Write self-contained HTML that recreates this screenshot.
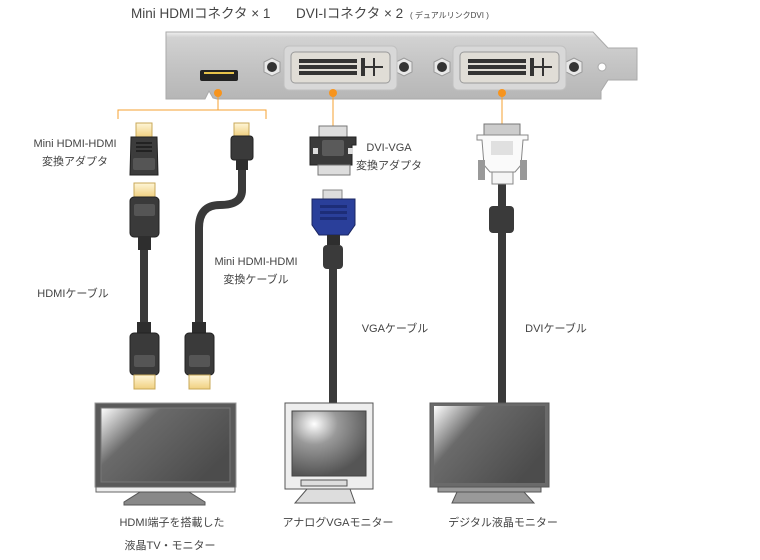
<!DOCTYPE html>
<html><head><meta charset="utf-8"><style>
html,body{margin:0;padding:0;background:#fff;width:760px;height:560px;overflow:hidden}
svg text{font-family:"Liberation Sans","Noto Sans CJK JP",sans-serif;fill:#444}
</style></head><body>
<svg width="760" height="560" viewBox="0 0 760 560" xmlns="http://www.w3.org/2000/svg">
<defs>
<linearGradient id="plate" x1="0" y1="0" x2="0" y2="1"><stop offset="0" stop-color="#f0f0f0"/><stop offset="0.08" stop-color="#d2d2d2"/><stop offset="0.5" stop-color="#c4c4c4"/><stop offset="1" stop-color="#b6b6b6"/></linearGradient>
<linearGradient id="scr" x1="0" y1="0" x2="1" y2="0.6"><stop offset="0" stop-color="#fff"/><stop offset="0.35" stop-color="#6a6a6a"/><stop offset="1" stop-color="#4c4c4c"/></linearGradient>
<radialGradient id="scr2" cx="0.3" cy="0.2" r="0.8"><stop offset="0" stop-color="#fff"/><stop offset="0.4" stop-color="#999"/><stop offset="1" stop-color="#555"/></radialGradient>
<linearGradient id="gold" x1="0" y1="0" x2="0" y2="1"><stop offset="0" stop-color="#fff6d8"/><stop offset="1" stop-color="#f0d080"/></linearGradient>
<g id="screw"><polygon points="-8,-5 0,-9 8,-5 8,5 0,9 -8,5" fill="#e8e8e8" stroke="#999"/><circle r="5" fill="#333"/></g>
<g id="dvi"><rect x="-5" y="-4" width="113" height="44" rx="5" fill="#d8d8d8" stroke="#c0c0c0"/><rect x="2" y="2" width="99" height="31" rx="4" fill="#e0ddd6" stroke="#999"/>
<g fill="#333"><rect x="10" y="9" width="58" height="4"/><rect x="10" y="15" width="58" height="4"/><rect x="10" y="21" width="58" height="4"/><rect x="72" y="8" width="4" height="18"/><rect x="76" y="16" width="18" height="2"/><rect x="84" y="8" width="2" height="18"/></g></g>
</defs>

<text x="131" y="18" font-size="13.5" fill="#333">Mini HDMIコネクタ × 1</text>
<text x="296" y="18" font-size="13.5" fill="#333">DVI-Iコネクタ × 2</text>
<text x="410" y="18" font-size="8">( デュアルリンクDVI )</text>

<!-- bracket -->
<path d="M166,32 L593,32 L608,48 L637,48 L637,80 L608,80 L601,91 L601,99 L217,99 L213,98 L209,91 L205,99 L166,99 Z" fill="url(#plate)" stroke="#aaa"/>
<rect x="200" y="70" width="38" height="11" rx="2" fill="#222"/><rect x="204" y="72" width="30" height="2" fill="#e6c24a"/>
<use href="#screw" x="272" y="67"/><use href="#screw" x="404" y="67"/><use href="#screw" x="442" y="67"/><use href="#screw" x="574" y="67"/>
<circle cx="602" cy="67" r="4" fill="#fff" stroke="#aaa"/>
<use href="#dvi" x="289" y="50"/><use href="#dvi" x="458" y="50"/>

<!-- orange -->
<g stroke="#f5a030" stroke-width="1" fill="none"><path d="M218,93 V110 M118,119 V110 H266 V119 M333,93 V126 M502,93 V126"/></g>
<g fill="#f7941d"><circle cx="218" cy="93" r="4"/><circle cx="333" cy="93" r="4"/><circle cx="502" cy="93" r="4"/></g>

<!-- cables -->
<g stroke="#3a3a3a" fill="none" stroke-width="8"><path d="M144,248 V325"/><path d="M242,168 V190 Q242,205 220,205 Q199,205 199,228 V325"/><path d="M333,268 V405"/><path d="M502,184 V405"/></g>

<!-- left adapter -->
<rect x="136" y="123" width="16" height="14" fill="url(#gold)" stroke="#c8a858"/>
<path d="M131,137 H157 L158,175 H130 Z" fill="#3c3c3c" stroke="#222"/>
<g fill="#222"><rect x="136" y="142" width="16" height="2"/><rect x="136" y="146" width="16" height="2"/><rect x="136" y="150" width="16" height="2"/><rect x="133" y="158" width="22" height="12" rx="2" fill="#555"/></g>
<!-- HDMI top connector -->
<rect x="134" y="183" width="21" height="14" fill="url(#gold)" stroke="#c8a858"/>
<rect x="130" y="197" width="29" height="40" rx="4" fill="#3a3a3a" stroke="#222"/><rect x="134" y="204" width="21" height="12" rx="2" fill="#555"/>
<rect x="138" y="237" width="13" height="13" fill="#2e2e2e"/>
<!-- mini cable top -->
<rect x="234" y="123" width="15" height="13" fill="url(#gold)" stroke="#c8a858"/>
<rect x="231" y="136" width="22" height="24" rx="3" fill="#3a3a3a" stroke="#222"/><rect x="236" y="160" width="12" height="10" fill="#2e2e2e"/>
<!-- bottom HDMI connectors -->
<g><rect x="137" y="322" width="14" height="12" fill="#2e2e2e"/><rect x="130" y="333" width="29" height="42" rx="4" fill="#3a3a3a" stroke="#222"/><rect x="134" y="355" width="21" height="12" rx="2" fill="#555"/><rect x="134" y="375" width="21" height="14" fill="url(#gold)" stroke="#c8a858"/></g>
<g><rect x="192" y="322" width="14" height="12" fill="#2e2e2e"/><rect x="185" y="333" width="29" height="42" rx="4" fill="#3a3a3a" stroke="#222"/><rect x="189" y="355" width="21" height="12" rx="2" fill="#555"/><rect x="189" y="375" width="21" height="14" fill="url(#gold)" stroke="#c8a858"/></g>

<!-- DVI-VGA adapter -->
<rect x="319" y="126" width="28" height="11" fill="#ddd" stroke="#777"/>
<path d="M310,137 H356 V145 H352 V165 H310 V145 H310 Z" fill="#3a3a3a" stroke="#222"/>
<rect x="322" y="140" width="22" height="16" rx="2" fill="#5a5a5a"/>
<rect x="313" y="148" width="5" height="6" fill="#ddd"/><rect x="348" y="148" width="5" height="6" fill="#ddd"/>
<rect x="318" y="165" width="32" height="10" fill="#ddd" stroke="#777"/>
<!-- VGA connector -->
<rect x="323" y="190" width="19" height="9" fill="#ddd" stroke="#888"/>
<path d="M312,199 H355 V225 L348,235 H319 L312,225 Z" fill="#2a3f9a" stroke="#1a2560"/>
<g fill="#1d2d78"><rect x="320" y="205" width="27" height="3"/><rect x="320" y="211" width="27" height="3"/><rect x="320" y="217" width="27" height="3"/></g>
<rect x="327" y="235" width="13" height="10" fill="#2e2e2e"/>
<rect x="323" y="245" width="20" height="24" rx="4" fill="#3a3a3a"/>

<!-- DVI cable connector -->
<rect x="484" y="124" width="36" height="11" fill="#ccc" stroke="#777"/>
<path d="M477,135 H528 V140 H523 L521,165 L515,172 H490 L484,165 L482,140 H477 Z" fill="#fafafa" stroke="#888"/>
<rect x="491" y="141" width="22" height="14" fill="#e0e0e0"/>
<rect x="478" y="160" width="7" height="20" fill="#999"/><rect x="520" y="160" width="7" height="20" fill="#999"/>
<rect x="492" y="172" width="21" height="12" fill="#f5f5f5" stroke="#888"/>
<rect x="489" y="206" width="25" height="27" rx="4" fill="#3a3a3a"/>

<!-- TV -->
<rect x="95" y="403" width="141" height="84" fill="#5a5a5a" stroke="#999"/>
<rect x="101" y="408" width="129" height="74" fill="url(#scr)" stroke="#777"/>
<rect x="96" y="487" width="139" height="5" fill="#eee" stroke="#666"/>
<path d="M140,492 H189 L205,502 V505 H124 V502 Z" fill="#888" stroke="#555"/>
<!-- analog monitor -->
<rect x="285" y="403" width="88" height="86" fill="#eee" stroke="#555"/>
<rect x="292" y="411" width="74" height="65" fill="url(#scr2)" stroke="#444"/>
<rect x="301" y="480" width="46" height="6" fill="#ddd" stroke="#555"/>
<path d="M307,489 H350 L355,503 H295 Z" fill="#ddd" stroke="#555"/>
<!-- digital -->
<rect x="430" y="403" width="119" height="84" fill="#6a6a6a" stroke="#555"/>
<rect x="434" y="406" width="111" height="77" fill="url(#scr)"/>
<rect x="438" y="487" width="103" height="5" fill="#999" stroke="#555"/>
<path d="M457,492 H524 L534,503 H452 Z" fill="#999" stroke="#555"/>

<!-- labels -->
<g font-size="11" text-anchor="middle">
<text x="75" y="147">Mini HDMI-HDMI</text><text x="75" y="165">変換アダプタ</text>
<text x="73" y="297">HDMIケーブル</text>
<text x="256" y="265">Mini HDMI-HDMI</text><text x="256" y="283">変換ケーブル</text>
<text x="389" y="151">DVI-VGA</text><text x="389" y="169">変換アダプタ</text>
<text x="395" y="332">VGAケーブル</text>
<text x="556" y="332">DVIケーブル</text>
<text x="172" y="526">HDMI端子を搭載した</text><text x="170" y="549">液晶TV・モニター</text>
<text x="338" y="526">アナログVGAモニター</text>
<text x="503" y="526">デジタル液晶モニター</text>
</g>
</svg>
</body></html>
